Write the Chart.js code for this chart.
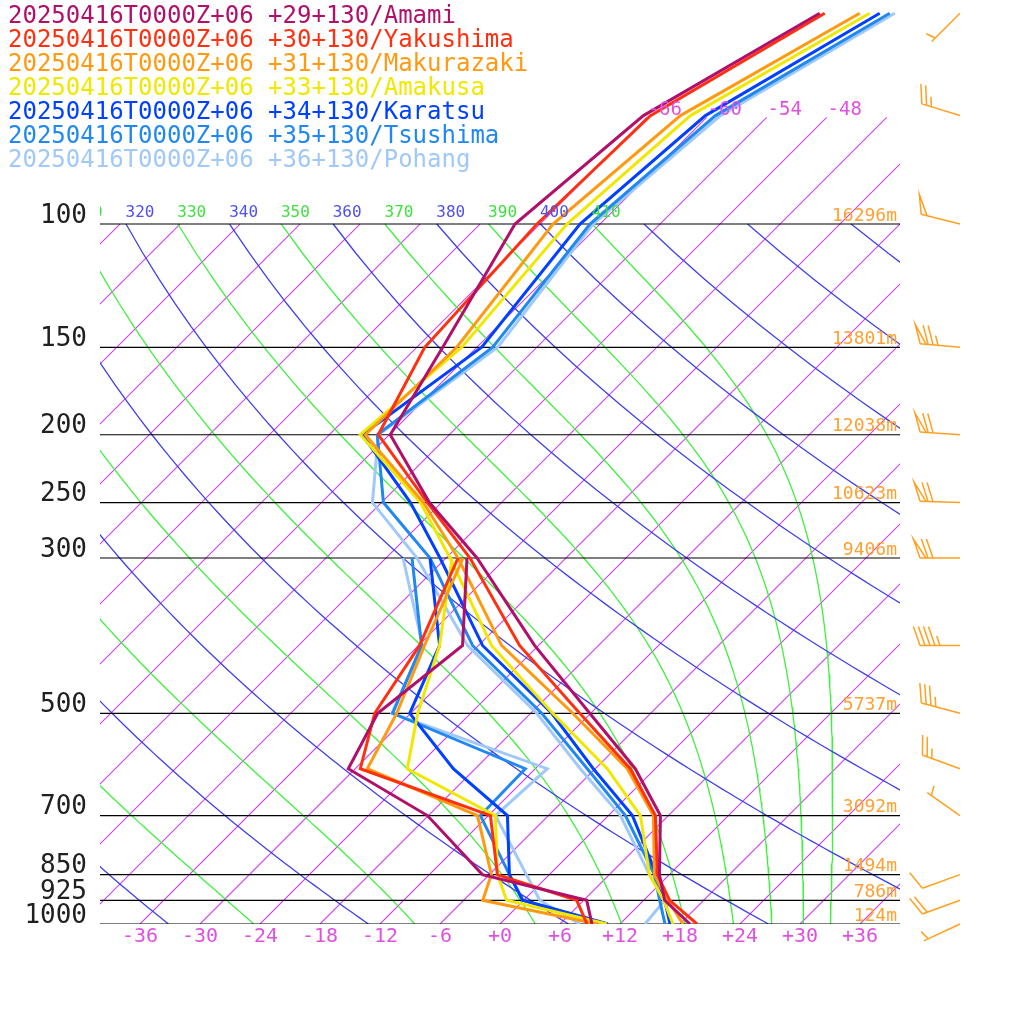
<!DOCTYPE html>
<html>
<head>
<meta charset="utf-8">
<script src="https://cdn.jsdelivr.net/npm/chart.js@4.4.0/dist/chart.umd.min.js"></script>
<style>
  html, body { margin: 0; padding: 0; background: #fff; }
</style>
</head>
<body>
<canvas id="skewt" width="1024" height="1024"></canvas>
<script>
// niveles de presion (hPa)
const levels = [1000, 925, 850, 700, 600, 500, 400, 300, 250, 200, 150, 100, 70, 50];
const dewLevels = [1000, 925, 850, 700, 600, 500, 400, 300];

const stations = ["20250416T0000Z+06 +29+130/Amami", "20250416T0000Z+06 +30+130/Yakushima",
    "20250416T0000Z+06 +31+130/Makurazaki", "20250416T0000Z+06 +33+130/Amakusa",
    "20250416T0000Z+06 +34+130/Karatsu", "20250416T0000Z+06 +35+130/Tsushima",
    "20250416T0000Z+06 +36+130/Pohang"];
const colores = ["#b0106a", "#ff3010", "#ff9a10", "#f0e800", "#0040ff", "#2088f0", "#a0c8f8"];

// temperatura (C)
const tAmami = [19.0, 14.1, 11.0, 5.2, -2.0, -12.1, -24.4, -38.9, -49.2, -59.9, -63.4, -68.5, -66.5, -59.1];
const tYakushima = [19.7, 14.6, 10.8, 4.7, -2.5, -13.1, -25.9, -39.6, -49.4, -61.1, -65.2, -66.3, -65.8, -58.6];
const tMakurazaki = [18.3, 14.4, 10.5, 4.5, -2.8, -13.8, -27.7, -40.8, -49.8, -62.4, -62.0, -64.7, -62.8, -55.1];
const tAmakusa = [17.3, 14.0, 10.0, 3.2, -4.8, -15.8, -28.7, -41.6, -50.1, -62.9, -61.5, -63.3, -61.8, -54.1];
const tKaratsu = [17.0, 14.1, 10.7, 2.4, -6.2, -15.9, -29.6, -42.6, -51.1, -62.7, -59.5, -62.0, -60.3, -53.1];
const tTsushima = [16.5, 13.6, 10.5, 1.7, -6.8, -16.9, -30.6, -43.6, -53.8, -61.2, -58.4, -61.0, -59.3, -52.1];
const tPohang = [14.5, 14.1, 10.0, 1.2, -7.5, -17.4, -31.1, -44.9, -54.9, -61.1, -57.9, -60.7, -58.8, -51.6];

// punto de rocio (C)
const tdAmami = [9.2, 6.3, -6.7, -18.1, -30.7, -33.3, -31.6, -39.9];
const tdYakushima = [8.7, 5.3, -5.2, -11.8, -29.5, -33.6, -35.9, -40.8];
const tdMakurazaki = [9.7, -4.1, -5.8, -13.1, -28.8, -31.4, -35.4, -40.3];
const tdAmakusa = [10.7, -1.7, -5.2, -11.3, -24.8, -29.3, -33.9, -41.4];
const tdKaratsu = [10.8, -0.1, -4.0, -10.1, -20.2, -30.1, -33.9, -43.6];
const tdTsushima = [10.7, -0.1, -4.0, -12.8, -13.0, -31.8, -35.7, -45.4];
const tdPohang = [8.0, 1.6, -2.3, -11.3, -10.8, -31.9, -35.6, -46.3];

const temps = [tAmami, tYakushima, tMakurazaki, tAmakusa, tKaratsu, tTsushima, tPohang];
const dews = [tdAmami, tdYakushima, tdMakurazaki, tdAmakusa, tdKaratsu, tdTsushima, tdPohang];

// lineas horizontales y alturas
const presLineas = [100, 150, 200, 250, 300, 500, 700, 850, 925, 1000];
const alturas = ["16296m", "13801m", "12038m", "10623m", "9406m", "5737m", "3092m", "1494m", "786m", "124m"];

// eje inferior
const xTicks = [-36, -30, -24, -18, -12, -6, 0, 6, 12, 18, 24, 30, 36];

// viento
const vientoP = [50, 70, 100, 150, 200, 250, 300, 400, 500, 600, 700, 850, 925, 1000];
const vientoDir = [225, 287, 284, 275, 274, 272, 270, 270, 285, 290, 305, 250, 250, 245];
const vientoKt = [5, 25, 50, 75, 70, 70, 70, 45, 35, 25, 5, 10, 20, 5];

// fondo termodinamico
const secas = [240, 260, 280, 300, 320, 340, 360, 380, 400, 420, 440, 460];
const humedas = [250, 270, 290, 310, 330, 350, 370, 390, 410];
const isotermas = [];
for (let t = -120; t <= 42; t += 6) isotermas.push(t);
const ISO_TOPE = 70.4; // presion donde terminan las isotermas altas

const SKEW = 70; // grados por decada de presion

function skewX(t, p) {
    return t + SKEW * Math.log10(1000 / p);
}

function esat(tc) {
    return 6.112 * Math.exp(17.67 * tc / (tc + 243.5));
}

function lapsoHumedo(T, p) {
    const Rd = 287.04, cp = 1005.7, Lv = 2.501e6, eps = 0.622;
    const es = esat(T - 273.15);
    const rs = eps * es / (p - es);
    return (Rd * T + Lv * rs) / (p * (cp + Lv * Lv * rs * eps / (Rd * T * T)));
}

function adiabataSeca(theta) {
    const pts = [];
    for (let p = 100; p <= 1000; p += 10) {
        const T = theta * Math.pow(p / 1000, 0.2857) - 273.15;
        pts.push({ x: skewX(T, p), y: p });
    }
    return pts;
}

function adiabataHumeda(theta) {
    const pts = [];
    let p = 100;
    let T = theta * Math.pow(0.1, 0.2857);
    pts.push({ x: skewX(T - 273.15, p), y: p });
    const dp = 2;
    while (p < 1000) {
        const k1 = lapsoHumedo(T, p);
        const k2 = lapsoHumedo(T + k1 * dp, p + dp);
        T += (k1 + k2) / 2 * dp;
        p += dp;
        if (p % 10 === 0) pts.push({ x: skewX(T - 273.15, p), y: p });
    }
    return pts;
}

function topeIsoterma(t) {
    return t >= -66 ? ISO_TOPE : 100;
}

const datasets = [];

// perfiles
temps.forEach((t, i) => {
    datasets.push({
        data: levels.map((p, j) => ({ x: skewX(t[j], p), y: p })),
        borderColor: colores[i], borderWidth: 3, order: i
    });
});
dews.forEach((td, i) => {
    datasets.push({
        data: dewLevels.map((p, j) => ({ x: skewX(td[j], p), y: p })),
        borderColor: colores[i], borderWidth: 3, order: i
    });
});

presLineas.forEach(p => {
    datasets.push({ data: [{ x: -40, y: p }, { x: 40, y: p }], borderColor: "rgb(0,0,0)", borderWidth: 1.2, order: 50 });
});
secas.forEach(th => {
    datasets.push({ data: adiabataSeca(th), borderColor: "rgb(64,64,235)", borderWidth: 1.3, order: 60 });
});
humedas.forEach(th => {
    datasets.push({ data: adiabataHumeda(th), borderColor: "rgb(64,240,64)", borderWidth: 1.3, order: 60 });
});
isotermas.forEach(t => {
    const pt = topeIsoterma(t);
    datasets.push({
        data: [{ x: skewX(t, 1000), y: 1000 }, { x: skewX(t, pt), y: pt }],
        borderColor: "#d040f0", borderWidth: 1.1, order: 70
    });
});

const MONO = "'DejaVu Sans Mono', monospace";

function dibujarBarba(ctx, bx, by, dir, kt) {
    const a = dir * Math.PI / 180;
    const d = { x: Math.sin(a), y: -Math.cos(a) };
    const L = 40;
    const tip = { x: bx + d.x * L, y: by + d.y * L };
    let f = { x: -d.y + 0.35 * d.x, y: d.x + 0.35 * d.y };
    const n = Math.hypot(f.x, f.y);
    f = { x: f.x / n, y: f.y / n };
    const FL = 20;
    ctx.beginPath();
    ctx.moveTo(bx, by);
    ctx.lineTo(tip.x, tip.y);
    ctx.stroke();
    let resto = Math.round(kt / 5) * 5;
    let pos = 0;
    while (resto >= 50) {
        const p0 = { x: tip.x - d.x * pos, y: tip.y - d.y * pos };
        const p1 = { x: tip.x - d.x * (pos + 6), y: tip.y - d.y * (pos + 6) };
        ctx.beginPath();
        ctx.moveTo(p0.x, p0.y);
        ctx.lineTo(p0.x + f.x * FL, p0.y + f.y * FL);
        ctx.lineTo(p1.x, p1.y);
        ctx.stroke();
        pos += 8;
        resto -= 50;
    }
    while (resto >= 10) {
        const p0 = { x: tip.x - d.x * pos, y: tip.y - d.y * pos };
        ctx.beginPath();
        ctx.moveTo(p0.x, p0.y);
        ctx.lineTo(p0.x + f.x * FL, p0.y + f.y * FL);
        ctx.stroke();
        pos += 5;
        resto -= 10;
    }
    if (resto >= 5) {
        if (pos === 0) pos = 5;
        const p0 = { x: tip.x - d.x * pos, y: tip.y - d.y * pos };
        ctx.beginPath();
        ctx.moveTo(p0.x, p0.y);
        ctx.lineTo(p0.x + f.x * FL / 2, p0.y + f.y * FL / 2);
        ctx.stroke();
    }
}

const textos = {
    id: "textos",
    afterDraw(chart) {
        const ctx = chart.ctx;
        const xs = chart.scales.x, ys = chart.scales.y;
        const area = chart.chartArea;
        ctx.save();

        // presiones
        ctx.font = "26px " + MONO;
        ctx.fillStyle = "#202020";
        ctx.textAlign = "right";
        ctx.textBaseline = "middle";
        presLineas.forEach(p => ctx.fillText(String(p), 87, ys.getPixelForValue(p) - 8));

        // alturas
        ctx.font = "18px " + MONO;
        ctx.fillStyle = "#ffa030";
        ctx.textBaseline = "bottom";
        presLineas.forEach((p, i) => ctx.fillText(alturas[i], 897, ys.getPixelForValue(p) + 1));

        // eje x
        ctx.font = "20px " + MONO;
        ctx.fillStyle = "#e050e0";
        ctx.textAlign = "center";
        ctx.textBaseline = "middle";
        xTicks.forEach(t => {
            const lbl = t > 0 ? "+" + t : (t === 0 ? "+0" : String(t));
            ctx.fillText(lbl, xs.getPixelForValue(t), 937);
        });

        // etiquetas de isotermas
        ctx.save();
        ctx.beginPath();
        ctx.rect(area.left, area.top, area.right - area.left, area.bottom - area.top);
        ctx.clip();
        ctx.font = "19px " + MONO;
        isotermas.forEach(t => {
            if (topeIsoterma(t) !== ISO_TOPE) return;
            const x = xs.getPixelForValue(skewX(t, ISO_TOPE)) + 18;
            if (x < area.right) ctx.fillText(String(t), x, 110);
        });
        // etiquetas theta
        ctx.font = "16px " + MONO;
        secas.concat(humedas).forEach(th => {
            if (th > 410) return;
            const T = th * Math.pow(0.1, 0.2857) - 273.15;
            const x = xs.getPixelForValue(skewX(T, 100)) + 14;
            ctx.fillStyle = humedas.includes(th) ? "#40e040" : "#5050f0";
            ctx.fillText(String(th), x, 213);
        });
        ctx.restore();

        // leyenda
        ctx.font = "24px " + MONO;
        ctx.textAlign = "left";
        stations.forEach((s, i) => {
            ctx.fillStyle = colores[i];
            ctx.fillText(s, 8, 17 + i * 24);
        });

        // barbas de viento
        ctx.strokeStyle = "#ffa020";
        ctx.lineWidth = 1.5;
        vientoP.forEach((p, i) => dibujarBarba(ctx, 960, ys.getPixelForValue(p), vientoDir[i], vientoKt[i]));
        ctx.restore();
    }
};

new Chart(document.getElementById("skewt"), {
    type: "scatter",
    data: { datasets: datasets.map(ds => Object.assign({ showLine: true, pointRadius: 0, tension: 0, fill: false }, ds)) },
    options: {
        responsive: false,
        animation: false,
        devicePixelRatio: 1,
        layout: { padding: { left: 100, right: 124, top: 0, bottom: 100 } },
        plugins: { legend: { display: false }, tooltip: { enabled: false } },
        scales: {
            x: { type: "linear", min: -40, max: 40, display: false },
            y: { type: "logarithmic", min: 47.86, max: 1000, reverse: true, display: false }
        }
    },
    plugins: [textos]
});
</script>
</body>
</html>
